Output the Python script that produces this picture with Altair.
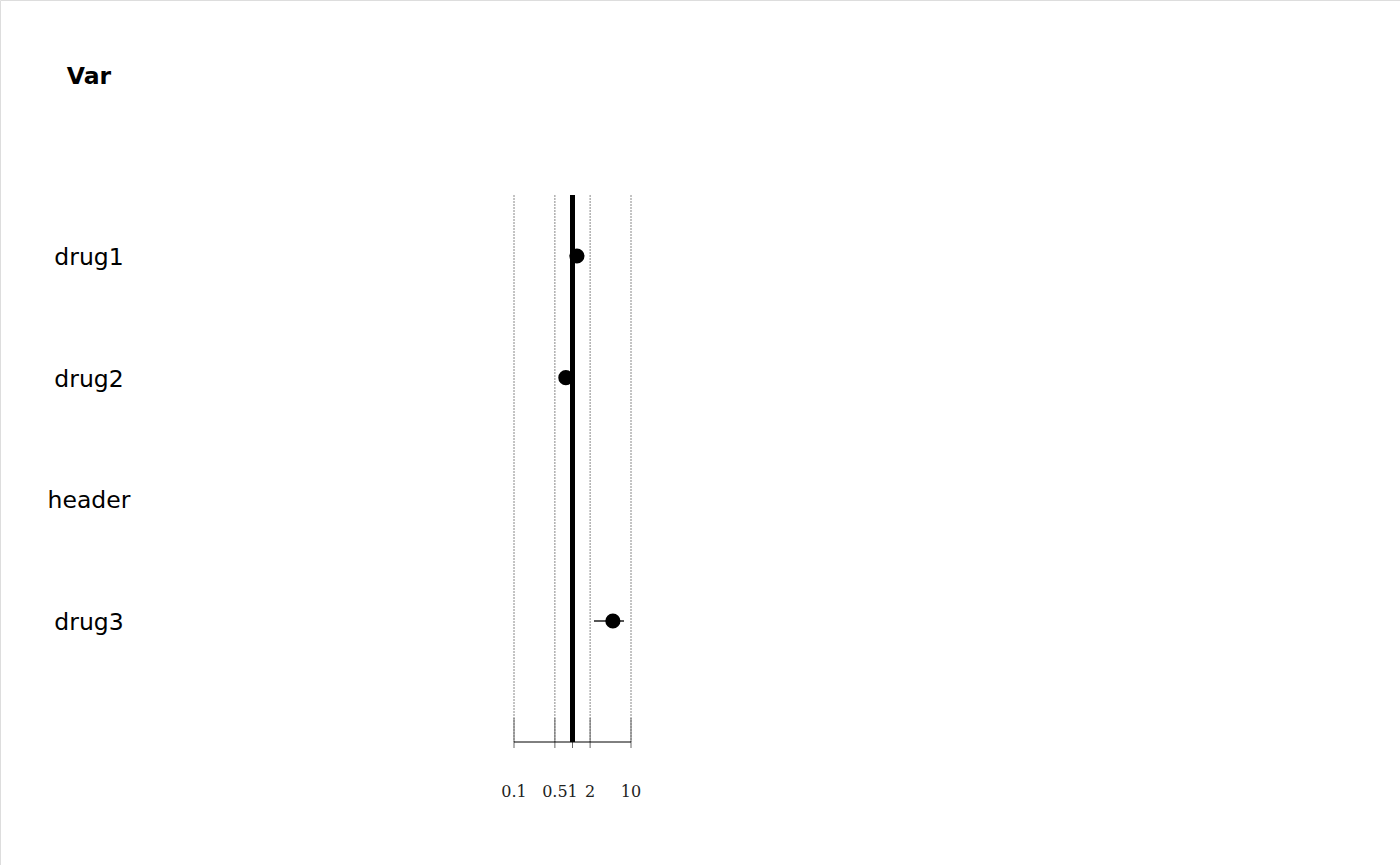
import altair as alt
import pandas as pd

# ---- data ----
labels = ["drug1", "drug2", "header", "drug3"]
rows = [1, 2, 3, 4]
estimates = [1.19, 0.77, None, 4.9]
lower = [1.05, 0.70, None, 2.33]
upper = [1.35, 0.85, None, 7.6]
tick_values = [0.1, 0.5, 1, 2, 10]
tick_labels = ["0.1", "0.5", "1", "2", "10"]
header_text = ["Var"]
ref_value = [1]

df = pd.DataFrame({"label": labels, "row": rows, "est": estimates, "lo": lower, "hi": upper})
pts = df.dropna()
ticks = pd.DataFrame({"v": tick_values, "t": tick_labels})
ref = pd.DataFrame({"v": ref_value})
hdr = pd.DataFrame({"t": header_text})

xs = alt.Scale(type="log", domain=[0.1, 10], range=[514, 631])
ys = alt.Scale(type="linear", domain=[1, 4], range=[256, 621])

grid = alt.Chart(ticks).mark_rule(color="#888888", strokeWidth=1, strokeDash=[2, 1]).encode(
    x=alt.X("v:Q", scale=xs, axis=None),
    y=alt.value(195), y2=alt.value(742))

tickmarks = alt.Chart(ticks).mark_rule(color="#666666", strokeWidth=1).encode(
    x=alt.X("v:Q", scale=xs, axis=None),
    y=alt.value(718), y2=alt.value(748))

axisline = alt.Chart(pd.DataFrame({"a": [0.1], "b": [10]})).mark_rule(color="black", strokeWidth=1).encode(
    x=alt.X("a:Q", scale=xs, axis=None), x2="b:Q", y=alt.value(742))

ticktext = alt.Chart(ticks).mark_text(font="DejaVu Serif", fontSize=16, baseline="middle", align="center", color="#222222").encode(
    x=alt.X("v:Q", scale=xs, axis=None), y=alt.value(792), text="t:N")

refline = alt.Chart(ref).mark_rule(color="black", strokeWidth=5).encode(
    x=alt.X("v:Q", scale=xs, axis=None), y=alt.value(195), y2=alt.value(742))

ci = alt.Chart(pts).mark_rule(color="#555555", strokeWidth=2).encode(
    x=alt.X("lo:Q", scale=xs, axis=None), x2="hi:Q",
    y=alt.Y("row:Q", scale=ys, axis=None))

points = alt.Chart(pts).mark_circle(color="black", opacity=1, size=230).encode(
    x=alt.X("est:Q", scale=xs, axis=None),
    y=alt.Y("row:Q", scale=ys, axis=None))

rowtext = alt.Chart(df).mark_text(font="DejaVu Sans", fontSize=23.5, align="center", baseline="middle", dy=2, color="black").encode(
    x=alt.value(89), y=alt.Y("row:Q", scale=ys, axis=None), text="label:N")

hdrtext = alt.Chart(hdr).mark_text(font="DejaVu Sans", fontSize=23.5, fontWeight="bold", align="center", baseline="middle", dy=2, color="black").encode(
    x=alt.value(89), y=alt.value(75), text="t:N")

chart = alt.layer(grid, tickmarks, axisline, ticktext, refline, ci, points, rowtext, hdrtext).properties(
    width=1400, height=865, autosize=alt.AutoSizeParams(type="none"), padding=0
).configure_view(stroke=None).configure(background="white")

chart.save("out.html", embed_options={"renderer": "svg", "actions": False})
